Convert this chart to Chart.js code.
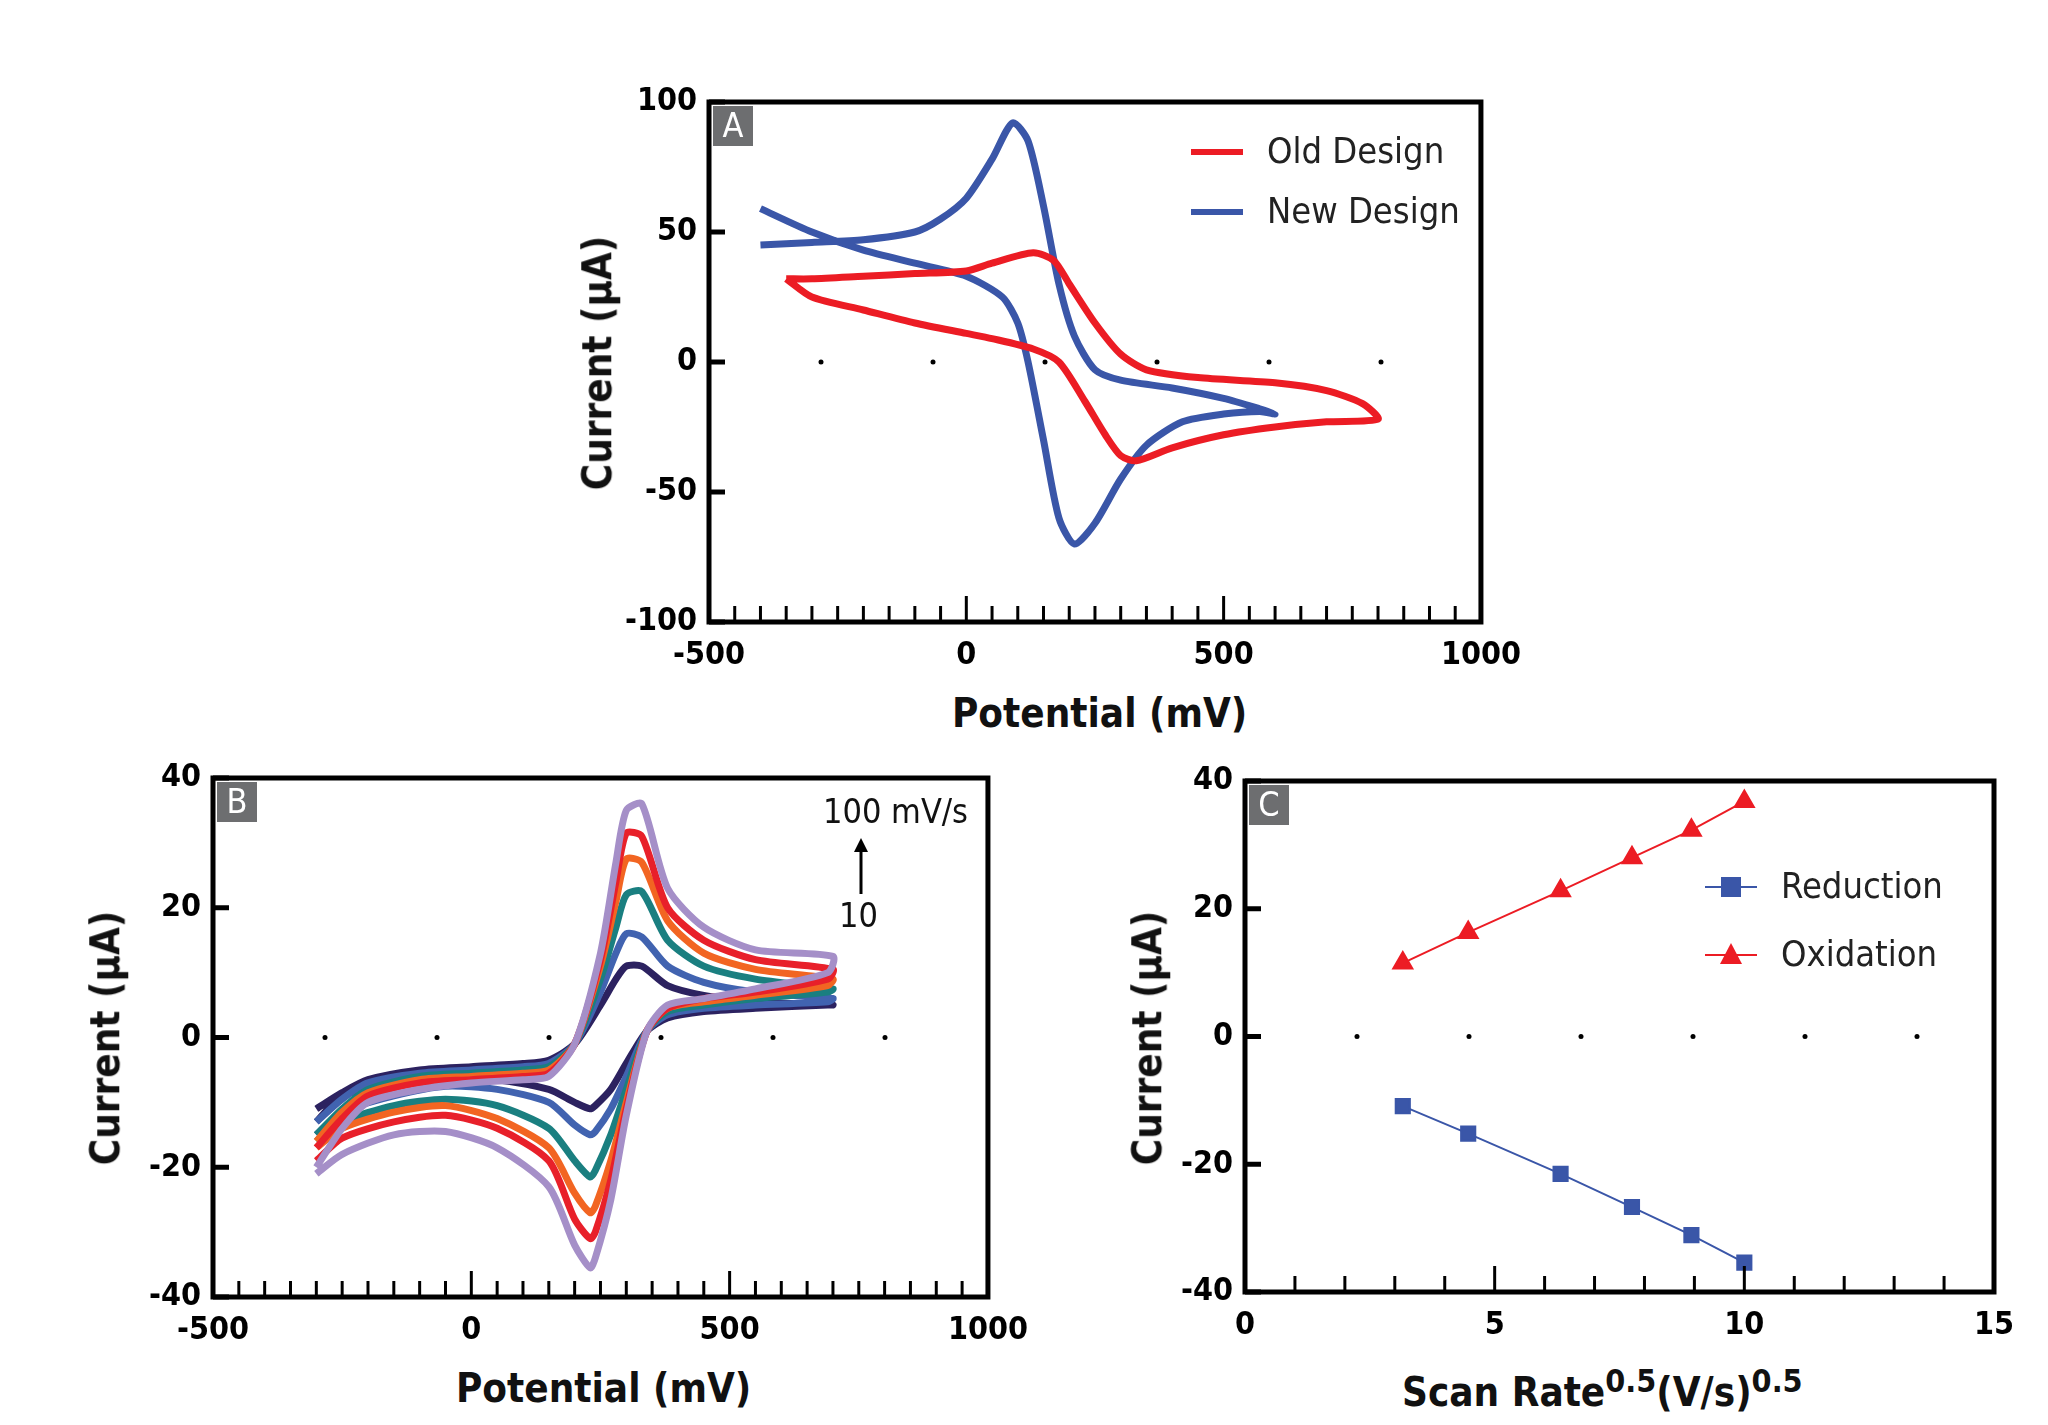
<!DOCTYPE html>
<html><head><meta charset="utf-8">
<script src="https://cdn.jsdelivr.net/npm/chart.js@4/dist/chart.umd.min.js"></script>
<style>
body{margin:0;background:#fff;width:2048px;height:1425px;position:relative;overflow:hidden;font-family:'Liberation Sans Narrow','DejaVu Sans Condensed',sans-serif}
.box{position:absolute}
.t{position:absolute;font-weight:bold;font-size:40px;white-space:nowrap;color:#111}
.yt{transform:rotate(-90deg);transform-origin:center}
</style></head><body>
<div class="box" id="wa"><canvas id="ca"></canvas></div>
<div class="box" id="wb"><canvas id="cb"></canvas></div>
<div class="box" id="wc"><canvas id="cc"></canvas></div>
<div class="t" style="left:952px;top:690px">Potential (mV)</div>
<div class="t yt" style="left:470px;top:340px">Current (µA)</div>
<div class="t" style="left:456px;top:1365px">Potential (mV)</div>
<div class="t yt" style="left:-22px;top:1015px">Current (µA)</div>
<div class="t yt" style="left:1020px;top:1015px">Current (µA)</div>
<div class="t" style="left:1402px;top:1362px">Scan Rate<sup style="font-size:32px">0.5</sup>(V/s)<sup style="font-size:32px">0.5</sup></div>
<script>
// Panel A: cyclic voltammograms, old vs new design
const oldX = [-350,-300,-200,-100,0,50,130,170,200,250,300,350,450,600,700,770,800,700,600,500,400,330,300,270,230,180,130,50,0,-100,-200,-300,-350];
const oldY = [32,32,33,34,35,38,42,39,30,15,3,-3,-6,-8,-11,-16,-22,-23,-25,-28,-33,-38,-36,-28,-15,0,5,9,11,15,20,25,32];
const newX = [-400,-300,-200,-100,-50,0,50,90,120,150,180,210,250,300,400,500,570,600,570,500,420,350,300,250,210,180,150,120,100,70,0,-100,-200,-300,-400];
const newY = [45,46,47,50,55,63,78,92,85,60,30,10,-3,-7,-10,-14,-18,-20,-19,-20,-23,-32,-45,-62,-70,-60,-30,0,15,25,33,38,43,50,59];

// Panel B: scan rates 10..100 mV/s, forward then reverse sweep
const bX = [-300,-250,-200,-100,0,100,150,200,250,280,300,330,380,450,550,700,
            690,550,450,380,340,300,270,240,230,200,150,50,-50,-150,-250,-300];
const b10  = [-11,-8.5,-6.5,-5,-4.5,-4,-3.5,-1,5,9,11,11,8,6.5,5.5,5, 5,4.5,4,3,1,-4,-8,-10.5,-11,-10,-8,-6.5,-6,-7,-9,-13];
const b20  = [-13,-9.5,-7,-5.5,-5,-4.5,-4,-1,7,13,16,15.5,11,8.5,7,6, 5.5,5,4.5,3.5,1,-6,-11,-14.5,-15,-13.5,-10,-8,-7.5,-9,-11.5,-15];
const b40  = [-15,-11,-8,-6,-5.5,-5,-4.5,-1,9,17,22,22.5,15,11,9,7.5, 7,6,5,4,1,-8,-15,-20.5,-21.5,-19,-14,-10.5,-9.5,-10.5,-13,-16];
const b60  = [-16,-11.5,-8.5,-6.5,-6,-5.5,-5,-1,11,21,27.5,27,18,13,10.5,9, 8,6.5,5.5,4.5,1,-10,-19,-26,-27,-24,-17,-12.5,-10.5,-11.5,-14,-17];
const b80  = [-17,-12.5,-9,-7,-6.5,-6,-5.5,-1,12,24,31.5,31,20,15,12,10.5, 9,7,6,4.5,1,-11,-22,-30,-31,-28,-19,-14,-12,-13,-15.5,-19];
const b100 = [-20,-14,-10,-8,-7,-6.5,-6,-1,13,27,35,36,23,17,13.5,12.5, 10,7.5,6,5,1,-12,-25,-34,-35.5,-32,-23,-17,-14.5,-15,-18,-21];
const bSeries = [b100,b80,b60,b40,b20,b10];
const bColors = ['#a58fc8','#e8202a','#f26522','#1a7f80','#4163b0','#2c2260'];

// Panel C: peak currents vs sqrt(scan rate)
const cX = [3.16,4.47,6.32,7.75,8.94,10];
const cRed = [-10.9,-15.2,-21.5,-26.7,-31.1,-35.4];
const cOx = [11.5,16.3,22.8,28,32.3,36.8];

const FONT = "'Liberation Sans Narrow','DejaVu Sans Condensed',sans-serif";
const pts = (xs, ys) => xs.map((x, i) => ({x, y: ys[i]}));
const extras = {};

const framePlugin = {
  id: 'frame',
  afterDraw(chart) {
    const o = extras[chart.canvas.id];
    const c = chart.ctx, a = chart.chartArea, xs = chart.scales.x, ys = chart.scales.y;
    c.save();
    c.strokeStyle = '#000'; c.lineWidth = 5;
    c.strokeRect(a.left, a.top, a.right - a.left, a.bottom - a.top);
    c.lineWidth = 3;
    for (let v = xs.min; v <= xs.max + 1e-9; v += o.minor) {
      const p = xs.getPixelForValue(v);
      const major = Math.abs(v / o.major - Math.round(v / o.major)) < 1e-6;
      c.beginPath(); c.moveTo(p, a.bottom); c.lineTo(p, a.bottom - (major ? 26 : 16)); c.stroke();
    }
    for (let v = ys.min; v <= ys.max + 1e-9; v += o.ymajor) {
      const p = ys.getPixelForValue(v);
      c.lineWidth = 5;
      c.beginPath(); c.moveTo(a.left, p); c.lineTo(a.left + 16, p); c.stroke();
    }
    // dotted zero line
    const y0 = ys.getPixelForValue(0);
    c.fillStyle = '#000';
    for (let p = a.left + 112; p <= a.right + 2; p += 112) {
      c.beginPath(); c.arc(p, y0, 2.5, 0, Math.PI * 2); c.fill();
    }
    // panel letter
    c.fillStyle = '#6d6e70';
    c.fillRect(a.left + 4, a.top + 4, 40, 40);
    c.fillStyle = '#fff'; c.font = '34px ' + FONT; c.textAlign = 'center'; c.textBaseline = 'middle';
    c.fillText(o.letter, a.left + 24, a.top + 26);
    // legend
    if (o.legend) {
      c.font = '36px ' + FONT; c.textAlign = 'left';
      o.legend.items.forEach((it, i) => {
        const ly = a.top + o.legend.y0 + i * o.legend.dy;
        const lx = a.left + o.legend.x0;
        c.strokeStyle = it.color; c.lineWidth = it.lw;
        c.beginPath(); c.moveTo(lx, ly); c.lineTo(lx + 52, ly); c.stroke();
        c.fillStyle = it.color;
        if (it.marker === 'rect') c.fillRect(lx + 16, ly - 10, 20, 20);
        if (it.marker === 'tri') { c.beginPath(); c.moveTo(lx + 26, ly - 12); c.lineTo(lx + 37, ly + 9); c.lineTo(lx + 15, ly + 9); c.fill(); }
        c.fillStyle = '#222'; c.fillText(it.text, lx + 76, ly + 2);
      });
    }
    if (o.note) o.note(c, a);
    c.restore();
  }
};

function makeChart(id, wrap, area, datasets, xr, yr, opts) {
  extras[id] = opts;
  const padL = 140, padT = 24, padR = 40, padB = 64;
  const w = document.getElementById(wrap);
  w.style.left = (area.l - padL) + 'px'; w.style.top = (area.t - padT) + 'px';
  w.style.width = (area.r - area.l + padL + padR) + 'px';
  w.style.height = (area.b - area.t + padT + padB) + 'px';
  return new Chart(document.getElementById(id), {
    type: 'scatter',
    data: {datasets},
    options: {
      responsive: true, maintainAspectRatio: false, animation: false,
      layout: {padding: {top: padT, right: padR, left: 0, bottom: 0}},
      plugins: {legend: {display: false}, tooltip: {enabled: false}},
      scales: {
        x: {min: xr[0], max: xr[1], grid: {display: false}, border: {display: false},
            afterFit: s => { s.height = padB; },
            ticks: {stepSize: xr[2], color: '#000', padding: 6, callback: v => String(v), font: {family: FONT, size: 32, weight: 'bold'}, maxRotation: 0}},
        y: {min: yr[0], max: yr[1], grid: {display: false}, border: {display: false},
            afterFit: s => { s.width = padL; },
            ticks: {stepSize: yr[2], color: '#000', padding: 4, font: {family: FONT, size: 32, weight: 'bold'}}}
      }
    },
    plugins: [framePlugin]
  });
}

const line = (data, color, lw) => ({data, showLine: true, borderColor: color, borderWidth: lw, pointRadius: 0, tension: 0.25, fill: false});

makeChart('ca', 'wa', {l: 709, t: 102, r: 1487, b: 622}, [
  line(pts(oldX, oldY), '#ec1c24', 7),
  line(pts(newX, newY), '#3a56a8', 7)
], [-500, 1000, 500], [-100, 100, 50], {
  minor: 50, major: 500, ymajor: 50, letter: 'A',
  legend: {items: [{text: 'Old Design', color: '#ec1c24', lw: 6}, {text: 'New Design', color: '#3a56a8', lw: 6}], x0: 482, y0: 50, dy: 60}
});

makeChart('cb', 'wb', {l: 213, t: 778, r: 994, b: 1297},
  bSeries.map((s, i) => line(pts(bX, s), bColors[i], 7)),
  [-500, 1000, 500], [-40, 40, 20], {
  minor: 50, major: 500, ymajor: 20, letter: 'B',
  note: (c, a) => {
    c.fillStyle = '#111'; c.font = '34px ' + FONT; c.textAlign = 'left';
    c.fillText('100 mV/s', a.left + 610, a.top + 36);
    c.fillText('10', a.left + 626, a.top + 140);
    c.strokeStyle = '#000'; c.lineWidth = 3;
    c.beginPath(); c.moveTo(a.left + 648, a.top + 116); c.lineTo(a.left + 648, a.top + 66); c.stroke();
    c.fillStyle = '#000';
    c.beginPath(); c.moveTo(a.left + 648, a.top + 60); c.lineTo(a.left + 655, a.top + 74); c.lineTo(a.left + 641, a.top + 74); c.fill();
  }
});

makeChart('cc', 'wc', {l: 1245, t: 781, r: 1994, b: 1292}, [
  {data: pts(cX, cRed), showLine: true, borderColor: '#3a56a8', backgroundColor: '#3a56a8', borderWidth: 2, pointStyle: 'rect', pointRadius: 10},
  {data: pts(cX, cOx), showLine: true, borderColor: '#ec1c24', backgroundColor: '#ec1c24', borderWidth: 2, pointStyle: 'triangle', pointRadius: 11}
], [0, 15, 5], [-40, 40, 20], {
  minor: 1, major: 5, ymajor: 20, letter: 'C',
  legend: {items: [{text: 'Reduction', color: '#3a56a8', lw: 2, marker: 'rect'}, {text: 'Oxidation', color: '#ec1c24', lw: 2, marker: 'tri'}], x0: 460, y0: 106, dy: 68}
});
</script>
</body></html>
